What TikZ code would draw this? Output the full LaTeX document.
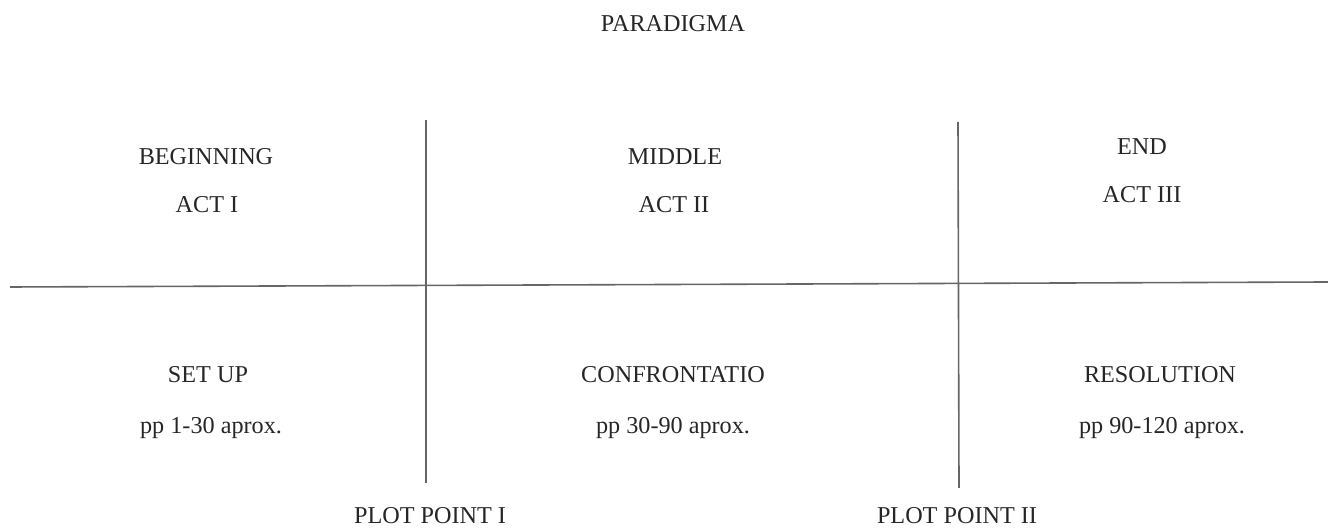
\documentclass[tikz,border=0pt]{standalone}
\usepackage{fontspec}
\setmainfont{Liberation Serif}
\usepackage{tikz}
\usetikzlibrary{positioning}

\begin{document}
\begin{tikzpicture}[x=0.5pt,y=-0.5pt,
	lbl/.style={anchor=base,font=\fontsize{12.1}{14}\selectfont,text=black!85,inner sep=0pt},
	rule/.style={draw=black!60,line width=0.8pt}]
		\useasboundingbox (0,0) rectangle (1328,528);
		%
		\node[lbl] (title) at (673,32) {PARADIGMA};
		\node[lbl] (beg) at (206,165) {BEGINNING};
		\node[lbl] (act1) at (207,213) {ACT I};
		\node[lbl] (mid) at (675,165) {MIDDLE};
		\node[lbl] (act2) at (674,213) {ACT II};
		\node[lbl] (end) at (1142,155) {END};
		\node[lbl] (act3) at (1142,203) {ACT III};
		\node[lbl] (setup) at (208,383) {SET UP};
		\node[lbl] (pp1) at (211,434) {pp 1-30 aprox.};
		\node[lbl] (conf) at (673,383) {CONFRONTATIO};
		\node[lbl] (pp2) at (673,434) {pp 30-90 aprox.};
		\node[lbl] (res) at (1160,383) {RESOLUTION};
		\node[lbl] (pp3) at (1162,434) {pp 90-120 aprox.};
		\node[lbl] (plot1) at (430,524) {PLOT POINT I};
		\node[lbl] (plot2) at (957,524) {PLOT POINT II};
		%
		\coordinate (L) at (10,287);
		\coordinate (R) at (1328,282);
		\coordinate (A) at (426,120);
		\coordinate (A') at (426,483);
		\coordinate (B) at (958,122);
		\coordinate (B') at (959,488);
		%
		\path[rule]
		(L) edge (R)
		(A) edge (A')
		(B) edge (B');
\end{tikzpicture}
\end{document}
